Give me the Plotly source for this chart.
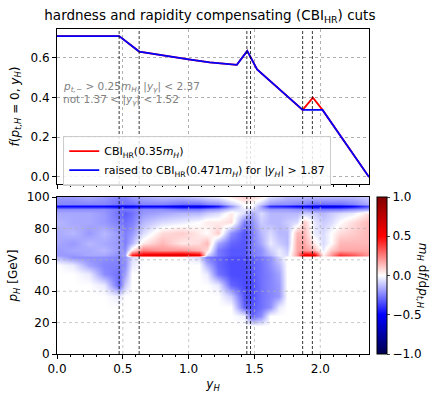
import plotly.graph_objects as go

# top panel: f(p_t,H = 0, y_H)
y_nodes = [0.0, 0.472, 0.624, 0.8, 1.0, 1.16, 1.366, 1.445, 1.52, 1.866, 1.944, 2.017, 2.37]
f_cbi = [0.71, 0.71, 0.632, 0.612, 0.592, 0.577, 0.565, 0.635, 0.542, 0.338, 0.40, 0.338, 0.0]
f_raised = [0.71, 0.71, 0.632, 0.612, 0.592, 0.577, 0.565, 0.635, 0.542, 0.338, 0.338, 0.338, 0.0]

cut_lines = [0.472, 0.624, 1.442, 1.47, 1.866, 1.94]

# bottom panel: m_H df/dp_t,H on a (y_H, p_H) grid
y_cols = [0.0, 0.12, 0.24, 0.36, 0.47, 0.52, 0.57, 0.65, 0.8, 0.95, 1.08, 1.14, 1.22, 1.32,
          1.42, 1.48, 1.55, 1.62, 1.69, 1.75, 1.82, 1.88, 1.95, 2.02, 2.08, 2.15, 2.25, 2.37]
p_rows = [0, 18, 24, 30, 37, 44, 51, 57, 61.8, 63.3, 66, 71, 77, 84, 90, 92.5, 94, 95.5, 100]
dfdp = [
    [0, 0, 0, 0, 0, 0, 0, 0, 0, 0, 0, 0, 0, 0, 0, 0, 0, 0, 0, 0, 0, 0, 0, 0, 0, 0, 0, 0],
    [0, 0, 0, 0, 0, 0, 0, 0, 0, 0, 0, 0, 0, 0, 0, 0, 0, 0, 0, 0, 0, 0, 0, 0, 0, 0, 0, 0],
    [0, 0, 0, 0, 0, 0, 0, 0, 0, 0, 0, 0, 0, 0, -0.03, -0.3, -0.22, 0, 0, 0, 0, 0, 0, 0, 0, 0, 0, 0],
    [0, 0, 0, 0, 0, 0, 0, 0, 0, 0, 0, 0, 0, 0, -0.3, -0.33, -0.28, -0.22, -0.04, 0, 0, 0, 0, 0, 0, 0, 0, 0],
    [0, 0, 0, 0, -0.04, 0, 0, 0, 0, 0, 0, 0, 0, -0.1, -0.33, -0.35, -0.28, -0.24, -0.2, 0, 0, 0, 0, 0, 0, 0, 0, 0],
    [0, 0, 0, -0.04, -0.3, -0.1, 0, 0, 0, 0, 0, 0, -0.04, -0.3, -0.35, -0.35, -0.28, -0.24, -0.2, 0, 0, 0, 0, 0, 0, 0, 0, 0],
    [0, 0, -0.04, -0.22, -0.28, -0.18, 0, 0, 0, 0, 0, -0.04, -0.27, -0.35, -0.35, -0.33, -0.28, -0.24, -0.18, 0, 0, 0, 0, 0, 0, 0, 0, 0],
    [0, -0.04, -0.18, -0.24, -0.25, -0.22, -0.04, 0, 0, 0, 0, -0.15, -0.3, -0.35, -0.35, -0.32, -0.28, -0.22, -0.14, 0, 0, 0, 0, 0, 0, 0, 0, 0],
    [-0.14, -0.22, -0.22, -0.22, -0.24, -0.22, -0.07, 0, 0, 0, -0.07, -0.26, -0.3, -0.35, -0.35, -0.32, -0.27, -0.22, -0.09, 0, 0, 0, 0, 0, 0, 0, 0, 0],
    [-0.2, -0.2, -0.17, -0.17, -0.22, -0.18, 0.45, 0.55, 0.6, 0.62, 0.55, -0.07, -0.26, -0.33, -0.33, -0.26, -0.22, -0.14, -0.04, -0.07, 0.2, 0.55, 0.55, 0.03, 0.2, 0.4, 0.33, 0.2],
    [-0.2, -0.17, -0.17, -0.14, -0.2, -0.22, 0.04, 0.25, 0.2, 0.2, 0.14, 0.07, -0.26, -0.33, -0.33, -0.26, -0.22, -0.1, -0.04, -0.1, 0.17, 0.2, 0.14, -0.04, 0.1, 0.17, 0.17, 0.17],
    [-0.17, -0.2, -0.14, -0.17, -0.2, -0.25, -0.14, 0.04, 0.14, 0.04, 0.07, 0.14, -0.17, -0.3, -0.33, -0.26, -0.17, -0.04, -0.1, -0.14, 0.17, 0.17, 0.04, -0.07, 0.0, 0.14, 0.14, 0.14],
    [-0.17, -0.14, -0.2, -0.14, -0.2, -0.25, -0.2, -0.07, 0.07, 0.1, 0.04, 0.0, 0.1, -0.22, -0.33, -0.26, -0.14, -0.07, -0.14, -0.14, 0.14, 0.14, -0.04, -0.07, 0.0, 0.07, 0.1, 0.14],
    [-0.14, -0.17, -0.17, -0.2, -0.25, -0.28, -0.25, -0.14, -0.07, -0.04, 0.0, 0.04, 0.04, 0.07, -0.25, -0.22, -0.1, -0.14, -0.14, -0.1, -0.07, 0.1, -0.04, -0.1, -0.07, 0.0, 0.07, 0.14],
    [-0.17, -0.17, -0.17, -0.2, -0.28, -0.32, -0.28, -0.2, -0.17, -0.14, -0.14, -0.1, -0.07, 0.04, -0.07, -0.17, -0.07, -0.14, -0.14, -0.14, -0.14, -0.1, -0.1, -0.14, -0.1, -0.07, -0.04, 0.07],
    [-0.22, -0.22, -0.22, -0.22, -0.26, -0.26, -0.26, -0.22, -0.22, -0.26, -0.26, -0.22, -0.2, -0.1, -0.04, -0.07, -0.15, -0.2, -0.2, -0.2, -0.22, -0.22, -0.26, -0.26, -0.26, -0.26, -0.22, -0.18],
    [-0.5, -0.5, -0.5, -0.5, -0.55, -0.57, -0.55, -0.52, -0.52, -0.58, -0.58, -0.55, -0.46, -0.22, 0.0, 0.0, -0.18, -0.42, -0.44, -0.46, -0.5, -0.52, -0.56, -0.58, -0.58, -0.56, -0.5, -0.35],
    [-0.24, -0.24, -0.24, -0.24, -0.28, -0.28, -0.28, -0.24, -0.24, -0.28, -0.28, -0.24, -0.22, -0.1, 0.0, 0.0, -0.1, -0.2, -0.22, -0.22, -0.24, -0.24, -0.28, -0.28, -0.28, -0.28, -0.24, -0.16],
    [-0.2, -0.2, -0.17, -0.2, -0.25, -0.25, -0.2, -0.17, -0.14, -0.14, -0.1, -0.07, -0.04, 0.04, 0.1, 0.07, 0.04, -0.07, -0.1, -0.14, -0.14, -0.14, -0.14, -0.14, -0.14, -0.14, -0.14, -0.1],
]

x_ticks = [0.0, 0.5, 1.0, 1.5, 2.0]
f_ticks = [0.0, 0.2, 0.4, 0.6]
p_ticks = [0, 20, 40, 60, 80, 100]

seismic = [[0.0, "rgb(0,0,77)"], [0.25, "rgb(0,0,255)"], [0.5, "rgb(255,255,255)"],
           [0.75, "rgb(255,0,0)"], [1.0, "rgb(128,0,0)"]]

FONT = "DejaVu Sans"
GRID = "#b0b0b0"

fig = go.Figure()
fig.add_trace(go.Scatter(x=y_nodes, y=f_cbi, mode="lines", line=dict(color="#ff0000", width=1.8),
                         name="CBI<sub>HR</sub>(0.35<i>m<sub>H</sub></i>)", xaxis="x", yaxis="y"))
fig.add_trace(go.Scatter(x=y_nodes, y=f_raised, mode="lines", line=dict(color="#0000ff", width=1.8),
                         name="raised to CBI<sub>HR</sub>(0.471<i>m<sub>H</sub></i>) for |<i>y<sub>H</sub></i>| > 1.87",
                         xaxis="x", yaxis="y"))
fig.add_trace(go.Heatmap(
    x=y_cols, y=p_rows, z=dfdp, colorscale=seismic, zmin=-1, zmax=1, zsmooth="best",
    xaxis="x2", yaxis="y2", showlegend=False, hoverinfo="skip",
    colorbar=dict(x=1.0256, xanchor="left", y=0, yanchor="bottom", len=0.483, lenmode="fraction",
                  xpad=0, ypad=0, thickness=10, outlinewidth=1, outlinecolor="black",
                  tickvals=[-1, -0.5, 0, 0.5, 1], tickformat=".1f", ticks="outside", ticklen=3,
                  tickfont=dict(size=12, color="black")),
))

# dashed cut positions in both panels, grid over the heatmap
shapes = []
for xv in x_ticks[1:]:
    shapes.append(dict(type="line", xref="x2", yref="y2 domain", x0=xv, x1=xv, y0=0, y1=1,
                       line=dict(color=GRID, width=0.7, dash="dot"), layer="above"))
for pv in p_ticks[1:-1]:
    shapes.append(dict(type="line", xref="x2 domain", yref="y2", x0=0, x1=1, y0=pv, y1=pv,
                       line=dict(color=GRID, width=0.7, dash="dot"), layer="above"))
for xv in cut_lines:
    for xr, yr in [("x", "y domain"), ("x2", "y2 domain")]:
        shapes.append(dict(type="line", xref=xr, yref=yr, x0=xv, x1=xv, y0=0, y1=1,
                           line=dict(color="black", width=0.8, dash="3px,2px"), layer="above"))

axis_common = dict(showline=True, mirror=True, linecolor="black", linewidth=1, ticks="outside",
                   ticklen=4, tickcolor="black", tickfont=dict(size=12, color="black"),
                   zeroline=False)

fig.update_layout(
    width=437, height=399,
    margin=dict(l=57, r=68, t=29, b=45, autoexpand=False),
    paper_bgcolor="white", plot_bgcolor="white",
    font=dict(family=FONT, size=12, color="black"),
    title=dict(text="hardness and rapidity compensating (CBI<sub>HR</sub>) cuts", x=0.49, xref="paper",
               xanchor="center", y=0.962, yref="container", yanchor="middle", font=dict(size=13.5)),
    xaxis=dict(domain=[0, 1], anchor="y", range=[0, 2.37], tickvals=x_ticks, showticklabels=False,
               showgrid=True, gridcolor=GRID, griddash="dot", gridwidth=0.7,
               minor=dict(dtick=0.1, ticks="outside", ticklen=2, tickcolor="black", showgrid=False),
               **axis_common),
    yaxis=dict(domain=[0.523, 1], anchor="x", range=[-0.0355, 0.7455], tickvals=f_ticks, tickformat=".1f",
               showgrid=True, gridcolor=GRID, griddash="dot", gridwidth=0.7,
               title=dict(text="<i>f</i>(<i>p<sub>t,H</sub></i> = 0, <i>y<sub>H</sub></i>)", standoff=8,
                          font=dict(size=12)),
               **axis_common),
    xaxis2=dict(domain=[0, 1], anchor="y2", range=[0, 2.37], tickvals=x_ticks, tickformat=".1f",
                showgrid=False,
                minor=dict(dtick=0.1, ticks="outside", ticklen=2, tickcolor="black", showgrid=False),
                title=dict(text="<i>y<sub>H</sub></i>", standoff=4, font=dict(size=12)),
                **axis_common),
    yaxis2=dict(domain=[0, 0.483], anchor="x2", range=[0, 100], tickvals=p_ticks, showgrid=False,
                title=dict(text="<i>p<sub>H</sub></i> [GeV]", standoff=6, font=dict(size=12)),
                **axis_common),
    legend=dict(x=0.02, y=0.672, xanchor="left", yanchor="top", bgcolor="rgba(255,255,255,0.85)",
                bordercolor="#cccccc", borderwidth=1, font=dict(size=11), tracegroupgap=0,
                itemwidth=30),
    shapes=shapes,
    annotations=[
        dict(text="<i>p<sub>t,−</sub></i> > 0.25<i>m<sub>H</sub></i>, |<i>y<sub>γ</sub></i>| < 2.37",
             xref="paper", yref="paper", x=0.012, y=(354 - 87) / 325, xanchor="left", yanchor="middle",
             showarrow=False, font=dict(size=10.5, color="#808080")),
        dict(text="not 1.37 < |<i>y<sub>γ</sub></i>| < 1.52",
             xref="paper", yref="paper", x=0.012, y=(354 - 100) / 325, xanchor="left", yanchor="middle",
             showarrow=False, font=dict(size=10.5, color="#808080")),
        dict(text="<i>m<sub>H</sub></i> d<i>f</i>/d<i>p<sub>t,H</sub></i>", xref="paper", yref="paper",
             x=1.172, y=0.2415, xanchor="center", yanchor="middle", textangle=90, showarrow=False,
             font=dict(size=12)),
    ],
)

# the page is photographed from its corner, so drop the browser's default body margin
fig.write_html("out.html", config={"displayModeBar": False},
               post_script="document.body.style.margin = '0';")
